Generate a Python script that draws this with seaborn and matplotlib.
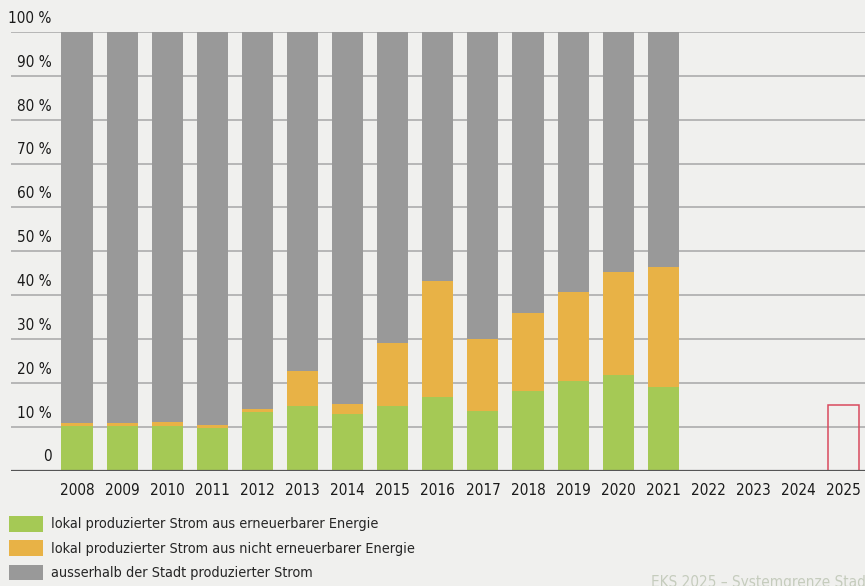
import pandas as pd
import numpy as np
import seaborn as sns
import matplotlib.pyplot as plt
from matplotlib.patches import Patch

# Strommix nach Herkunft, Anteile in %
years = [str(y) for y in range(2008, 2026)]
green = [10.1, 10.1, 10.1, 9.7, 13.4, 14.7, 12.9, 14.7, 16.7, 13.5, 18.1, 20.3, 21.7, 19.0,
         np.nan, np.nan, np.nan, np.nan]
orange = [0.7, 0.7, 1.0, 0.6, 0.6, 8.1, 2.2, 14.3, 26.6, 16.4, 17.9, 20.5, 23.6, 27.5,
          np.nan, np.nan, np.nan, np.nan]
target_year = '2025'
target_value = 15

labels = ['lokal produzierter Strom aus erneuerbarer Energie',
          'lokal produzierter Strom aus nicht erneuerbarer Energie',
          'ausserhalb der Stadt produzierter Strom']
colors = ['#a5c955', '#e8b246', '#999999']
bg = '#f0f0ee'

df = pd.DataFrame({'Jahr': years, 'green': green, 'orange': orange})
df['gray'] = 100 - df['green'] - df['orange']
df['lvl2'] = df['green'] + df['orange']
df['lvl3'] = df['lvl2'] + df['gray']

sns.set_style('white')
plt.rcParams['font.family'] = ['DejaVu Sans']
plt.rcParams['font.stretch'] = 'condensed'

fig = plt.figure(figsize=(8.65, 5.86), dpi=100, facecolor=bg)
ax = fig.add_axes([11 / 865, (586 - 470.5) / 586, 1 - 11 / 865, (470.5 - 32) / 586])
ax.set_facecolor(bg)

# gridlines
for v in range(10, 101, 10):
    ax.axhline(v, color='#b6b6b6', lw=1.4, zorder=0)

w = 0.69
sns.barplot(data=df, x='Jahr', y='lvl3', order=years, color=colors[2], width=w,
            saturation=1, ax=ax, zorder=2, linewidth=0, edgecolor='none')
sns.barplot(data=df, x='Jahr', y='lvl2', order=years, color=colors[1], width=w,
            saturation=1, ax=ax, zorder=3, linewidth=0, edgecolor='none')
sns.barplot(data=df, x='Jahr', y='green', order=years, color=colors[0], width=w,
            saturation=1, ax=ax, zorder=4, linewidth=0, edgecolor='none')

# Ziel 2025
ax.bar([years.index(target_year)], [target_value], width=w, fill=False,
       edgecolor='#d94a5e', lw=1.1, zorder=5)

ax.axhline(0, color='#555555', lw=1.6, zorder=6)

ax.set_xlim((11 - 77) / 45.1, (865 - 77) / 45.1)
ax.set_ylim(0, 100)
ax.set_xlabel('')
ax.set_ylabel('')
ax.set_yticks([])
ax.tick_params(axis='x', length=0, pad=9, labelsize=11, labelcolor='#1a1a1a')
for s in ax.spines.values():
    s.set_visible(False)

# y labels sit above their gridline
for v in range(0, 101, 10):
    txt = '0' if v == 0 else f'{v} %'
    ax.text(-0.56, v + 3.1, txt, ha='right', va='center', fontsize=11,
            color='#1a1a1a', clip_on=False)

handles = [Patch(facecolor=c, edgecolor='none') for c in colors]
fig.legend(handles, labels, loc='upper left', bbox_to_anchor=(3 / 865, 1 - 510 / 586),
           frameon=False, fontsize=10.4, handlelength=2.35, handleheight=1.3,
           labelspacing=0.6, handletextpad=0.6, borderaxespad=0)

fig.text(651 / 865, -4 / 586, 'EKS 2025 – Systemgrenze Stadtgebiet', fontsize=11,
         color='#c5ccbd', ha='left', va='bottom')

fig.savefig('out.png', dpi=100, facecolor=bg)
